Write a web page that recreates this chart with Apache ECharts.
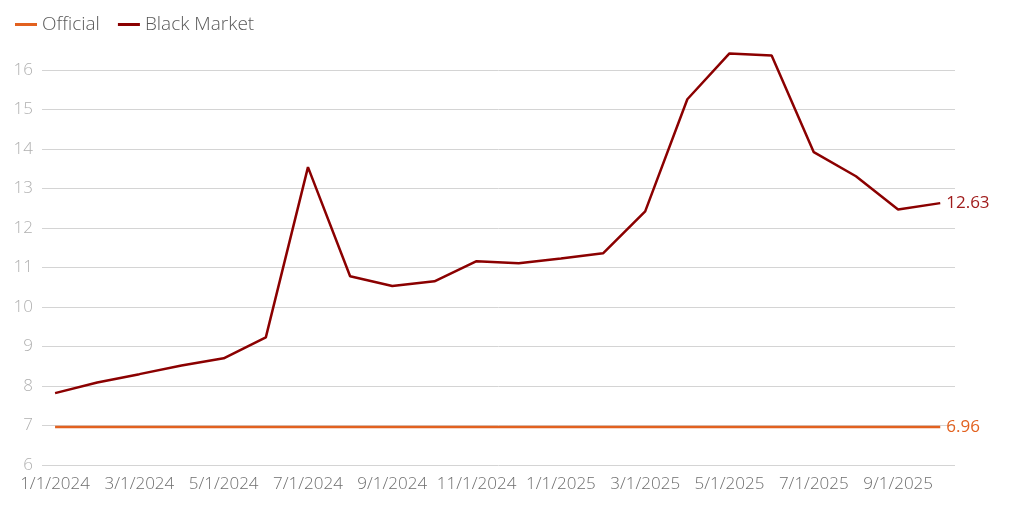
<!DOCTYPE html>
<html><head><meta charset="utf-8">
<script src="https://cdn.jsdelivr.net/npm/echarts@6/dist/echarts.min.js"></script>
<style>html,body{margin:0;padding:0;background:#fff}#c{width:1018px;height:519px}</style>
</head><body><div id="c"></div>
<script>
const months = ['1/1/2024','2/1/2024','3/1/2024','4/1/2024','5/1/2024','6/1/2024','7/1/2024','8/1/2024','9/1/2024','10/1/2024','11/1/2024','12/1/2024','1/1/2025','2/1/2025','3/1/2025','4/1/2025','5/1/2025','6/1/2025','7/1/2025','8/1/2025','9/1/2025','10/1/2025'];
const official = [6.96,6.96,6.96,6.96,6.96,6.96,6.96,6.96,6.96,6.96,6.96,6.96,6.96,6.96,6.96,6.96,6.96,6.96,6.96,6.96,6.96,6.96];
const blackMarket = [7.82,8.09,8.30,8.52,8.70,9.23,13.54,10.78,10.53,10.65,11.16,11.11,11.23,11.36,12.42,15.26,16.42,16.37,13.92,13.31,12.47,12.63];
const xTickIdx = [0,2,4,6,8,10,12,14,16,18,20];

const font = '"Open Sans", "Noto Sans", sans-serif';
const chart = echarts.init(document.getElementById('c'));
chart.setOption({
  animation: false,
  textStyle: {fontFamily: font},
  legend: {
    left: 10, top: 10, itemWidth: 22, itemHeight: 3, itemGap: 18,
    icon: 'rect',
    textStyle: {fontSize: 19, color: '#595959', fontFamily: font, fontWeight: 300},
    data: ['Official', 'Black Market']
  },
  grid: {left: 42, right: 63, top: 70, bottom: 54},
  xAxis: {
    type: 'value', min: -0.31, max: 21.35,
    axisLine: {show: false}, axisTick: {show: false}, splitLine: {show: false},
    axisLabel: {
      customValues: xTickIdx, fontSize: 17, color: '#6e6e6e', margin: 11, fontFamily: font, fontWeight: 300,
      formatter: v => months[Math.round(v)] || ''
    }
  },
  yAxis: {
    type: 'value', min: 6, max: 16, interval: 1,
    axisLine: {show: false}, axisTick: {show: false},
    axisLabel: {fontSize: 17, color: '#b0b0b0', margin: 9, fontFamily: font, fontWeight: 300},
    splitLine: {lineStyle: {color: '#d4d4d4', width: 1}}
  },
  series: [
    {
      name: 'Official', type: 'line', showSymbol: false, clip: false,
      data: official.map((v, i) => [i, v]),
      itemStyle: {color: '#E2611F'},
      lineStyle: {color: '#E2611F', width: 2.5},
      endLabel: {show: true, formatter: p => p.value[1].toFixed(2), color: '#E2611F', fontSize: 17, distance: 6, fontFamily: font, fontWeight: 'normal'}
    },
    {
      name: 'Black Market', type: 'line', showSymbol: false, clip: false,
      data: blackMarket.map((v, i) => [i, v]),
      itemStyle: {color: '#8B0000'},
      lineStyle: {color: '#8B0000', width: 2.5},
      endLabel: {show: true, formatter: p => p.value[1].toFixed(2), color: '#A01C1C', fontSize: 17, distance: 6, fontFamily: font, fontWeight: 'normal'}
    }
  ]
});
</script></body></html>
